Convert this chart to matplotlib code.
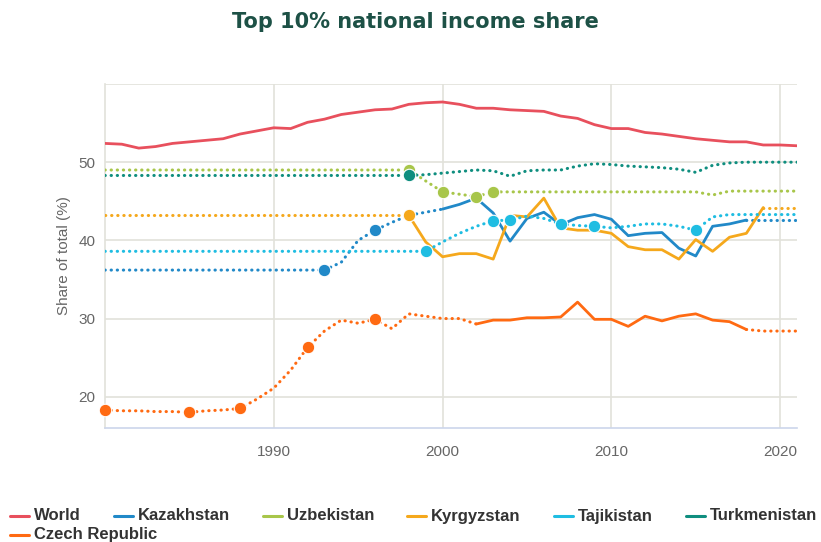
import matplotlib
matplotlib.use("Agg")
import matplotlib.pyplot as plt
from matplotlib.lines import Line2D

# --- data, one value per year 1980..2021 ---
YEARS = list(range(1980, 2022))

WORLD = [52.4, 52.3, 51.8, 52.0, 52.4, 52.6, 52.8, 53.0, 53.6, 54.0,
         54.4, 54.3, 55.1, 55.5, 56.1, 56.4, 56.7, 56.8, 57.4, 57.6,
         57.7, 57.4, 56.9, 56.9, 56.7, 56.6, 56.5, 55.9, 55.6, 54.8,
         54.3, 54.3, 53.8, 53.6, 53.3, 53.0, 52.8, 52.6, 52.6, 52.2,
         52.2, 52.1]

KAZAKHSTAN = [36.2] * 14 + [37.2, 40.0, 41.3, 42.3, 43.2, 43.6,
              44.0, 44.6, 45.4, 43.5, 39.9, 42.8, 43.6, 42.0, 42.9, 43.3,
              42.7, 40.6, 40.9, 41.0, 39.0, 38.0, 41.8, 42.1, 42.6, 42.6,
              42.6, 42.6]

UZBEKISTAN = [49.0] * 19 + [47.6, 46.2, 45.9, 45.6, 46.2] + [46.2] * 12 \
    + [45.8, 46.3, 46.3, 46.3, 46.3, 46.3]

KYRGYZSTAN = [43.2] * 19 + [39.8, 37.9, 38.3, 38.3, 37.6, 43.2, 43.0,
              45.4, 41.6, 41.3, 41.3, 40.9, 39.2, 38.8, 38.8, 37.6, 40.1,
              38.6, 40.4, 40.9, 44.2, 44.2, 44.2]

TAJIKISTAN = [38.6] * 20 + [39.8, 40.9, 41.8, 42.5, 42.6, 43.1, 42.8,
              42.1, 41.9, 41.8, 41.6, 41.8, 42.1, 42.1, 41.8, 41.3, 43.0,
              43.3, 43.3, 43.3, 43.3, 43.3]

TURKMENISTAN = [48.3] * 19 + [48.4, 48.6, 48.8, 49.0, 48.9, 48.2, 48.9,
                49.0, 49.0, 49.5, 49.8, 49.7, 49.5, 49.4, 49.3, 49.1, 48.7,
                49.6, 49.9, 50.0, 50.0, 50.0, 50.0]

CZECH = [18.3, 18.2, 18.2, 18.1, 18.1, 18.0, 18.2, 18.3, 18.5, 19.7,
         21.1, 23.4, 26.3, 28.4, 29.8, 29.4, 29.9, 28.7, 30.6, 30.3,
         30.0, 30.0, 29.3, 29.8, 29.8, 30.1, 30.1, 30.2, 32.1, 29.9,
         29.9, 29.0, 30.3, 29.7, 30.3, 30.6, 29.8, 29.6, 28.6, 28.4,
         28.4, 28.4]

# name, values, colour, solid year spans, years with a point marker
SERIES = [
    ("World", WORLD, "#e8505d", [(1980, 2021)], []),
    ("Kazakhstan", KAZAKHSTAN, "#2189c8", [(2000, 2018)], [1993, 1996]),
    ("Uzbekistan", UZBEKISTAN, "#a8c64a", [], [1998, 2000, 2002, 2003]),
    ("Kyrgyzstan", KYRGYZSTAN, "#f5a81c", [(1998, 2019)], [1998]),
    ("Tajikistan", TAJIKISTAN, "#1fbde2", [], [1999, 2003, 2004, 2007, 2009, 2015]),
    ("Turkmenistan", TURKMENISTAN, "#0f8e7f", [], [1998]),
    ("Czech Republic", CZECH, "#ff6a12", [(2002, 2018)], [1980, 1985, 1988, 1992, 1996]),
]

GRID = "#e2e2da"
TEXT_GREY = "#666666"

fig = plt.figure(figsize=(8.21, 5.42), dpi=100)
ax = fig.add_axes([105 / 821, 1 - 428 / 542, 692 / 821, 344 / 542])
ax.set_xlim(1980, 2021)
ax.set_ylim(16, 60)

for g in [20, 30, 40, 50, 60]:
    ax.axhline(g, color=GRID, lw=1.2, zorder=0)
for g in [1990, 2000, 2010, 2020]:
    ax.axvline(g, color=GRID, lw=1.2, zorder=0)

for s in ["top", "right"]:
    ax.spines[s].set_visible(False)
ax.spines["left"].set_color(GRID)
ax.spines["left"].set_linewidth(1.2)
ax.spines["bottom"].set_color("#ccd6eb")
ax.spines["bottom"].set_linewidth(1.2)

ax.set_xticks([1990, 2000, 2010, 2020])
ax.set_yticks([20, 30, 40, 50])
ax.tick_params(length=0, labelsize=11, labelcolor=TEXT_GREY)
ax.tick_params(axis="x", pad=12)
ax.tick_params(axis="y", pad=7)
for lab in ax.get_xticklabels() + ax.get_yticklabels():
    lab.set_family("Liberation Sans")
ax.set_ylabel("Share of total (%)", fontsize=11, color=TEXT_GREY,
              family="Liberation Sans", labelpad=5)


def is_solid(year, spans):
    return any(a <= year <= b for a, b in spans)


for z, (name, vals, color, spans, marks) in enumerate(SERIES):
    # split into runs of solid / dotted segments
    runs = []
    for i in range(len(YEARS) - 1):
        solid = is_solid(YEARS[i], spans) and is_solid(YEARS[i + 1], spans)
        if runs and runs[-1][0] == solid:
            runs[-1][1].append(i + 1)
        else:
            runs.append([solid, [i, i + 1]])
    for solid, idx in runs:
        xs = [YEARS[i] for i in idx]
        ys = [vals[i] for i in idx]
        if solid:
            ax.plot(xs, ys, color=color, lw=2.0, solid_capstyle="round",
                    solid_joinstyle="round", zorder=3 + z)
        else:
            ax.plot(xs, ys, color=color, lw=2.2, linestyle=(0, (0.1, 1.9)),
                    dash_capstyle="round", zorder=3 + z)
    if marks:
        ax.plot(marks, [vals[YEARS.index(y)] for y in marks], "o", color=color,
                ms=9, mec="white", mew=0.8, zorder=3 + z, clip_on=False)

fig.text(0.506, 1 - 22 / 542, "Top 10% national income share", ha="center",
         va="center", fontsize=15, fontweight="bold", color="#1d5146",
         family="DejaVu Sans")

# flow-style legend along the bottom
fig.canvas.draw()
renderer = fig.canvas.get_renderer()
x, y = 10, 516
W, H = 821, 542
for name, vals, color, spans, marks in SERIES:
    t = fig.text(0, 0, name, fontsize=12, fontweight="bold", color="#333333",
                 family="Liberation Sans", va="center", ha="left")
    tw = t.get_window_extent(renderer).width
    if x + 24 + tw > W + 4:
        x = 10
        y += 19
    fig.add_artist(Line2D([x / W, (x + 19) / W], [1 - y / H, 1 - y / H],
                          color=color, lw=2.2, solid_capstyle="round",
                          transform=fig.transFigure))
    t.set_position(((x + 24) / W, 1 - y / H))
    x += 24 + tw + 33

fig.savefig("out.png", dpi=100)
